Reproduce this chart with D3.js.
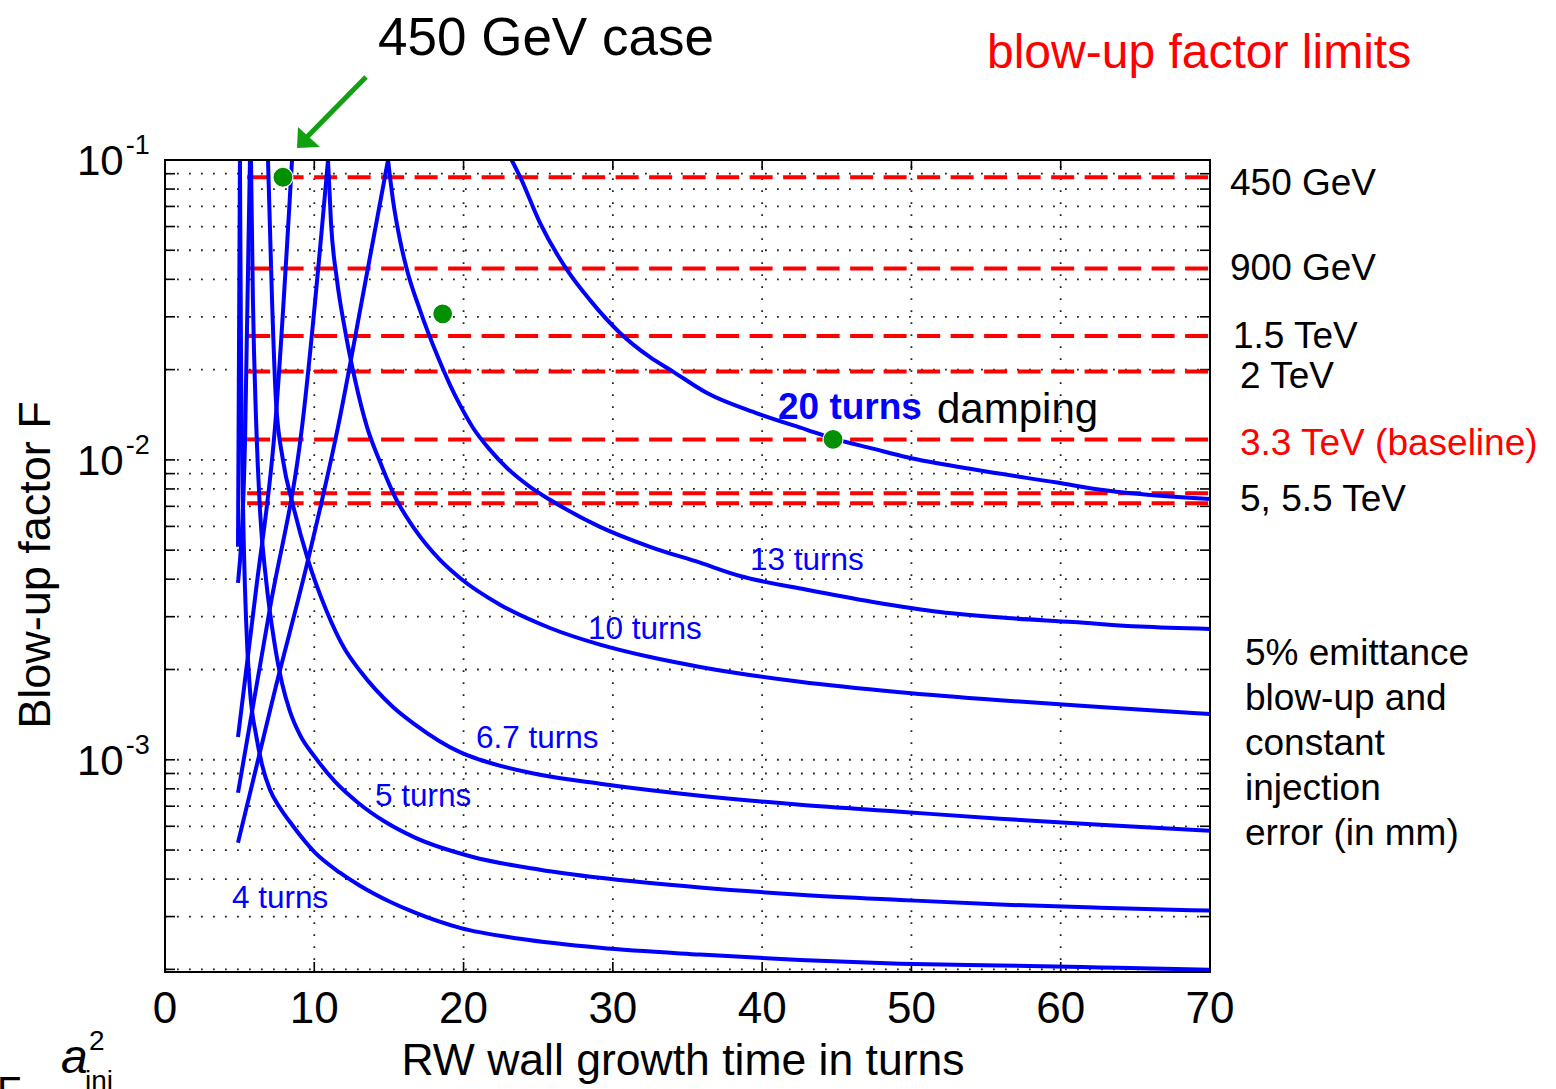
<!DOCTYPE html>
<html><head><meta charset="utf-8">
<script src="https://cdn.jsdelivr.net/npm/d3@7"></script>
<style>
html,body{margin:0;padding:0;background:#fff;}
svg{display:block;}
text{font-family:"Liberation Sans",Arial,Helvetica,sans-serif;}
</style></head><body>
<svg id="chart" width="1556" height="1089"></svg>
<script>
// ---------------- data ----------------
const xTickValues = [0, 10, 20, 30, 40, 50, 60, 70];
const xGridValues = [10, 20, 30, 40, 50, 60];
const yDecadeTicks = [1e-3, 1e-2, 1e-1];
const yDecadeExponents = ["-3", "-2", "-1"];

const dampingLabels = ["4 turns", "5 turns", "6.7 turns", "10 turns", "13 turns", "20 turns"];

// descending branches [growth time in turns, blow-up factor]
const fall4 = [[5.02,0.1],[5.09,0.0233],[5.22,0.00736],[5.43,0.00293],[5.69,0.00171],[6.10,0.00121],[6.50,0.000962],[7.03,0.000794],[7.70,0.000692],[8.51,0.000607],[10.05,0.00049],[11.72,0.00042],[13.06,0.00038],[15.07,0.000336],[16.75,0.000309],[19.76,0.000275],[23.78,0.000253],[29.14,0.000236],[35.84,0.000224],[42.53,0.000215],[49.23,0.000209],[55.93,0.000206],[62.63,0.000203],[70,0.0001995]];
const fall5 = [[5.76,0.1],[5.89,0.0341],[6.10,0.0136],[6.36,0.00681],[6.77,0.00398],[7.30,0.00251],[7.84,0.0018],[8.37,0.00145],[9.04,0.00121],[10.05,0.00102],[11.39,0.000845],[12.93,0.000719],[14.74,0.000621],[16.75,0.00055],[20.56,0.000475],[25.12,0.00043],[29.14,0.000404],[35.84,0.000375],[42.53,0.000355],[49.23,0.000341],[55.93,0.000329],[62.63,0.000321],[70,0.000314]];
const fall67 = [[6.90,0.1],[7.17,0.0341],[7.43,0.0158],[7.90,0.01],[8.57,0.00708],[9.58,0.00464],[10.85,0.00311],[12.06,0.00233],[13.06,0.00198],[15.27,0.0015],[16.75,0.00131],[19.76,0.00106],[21.10,0.001],[25.12,0.000891],[29.14,0.000832],[35.84,0.000759],[42.53,0.000708],[49.23,0.000671],[55.93,0.000636],[62.63,0.000607],[70,0.00058]];
const fall10 = [[10.92,0.1],[11.12,0.0617],[11.52,0.0398],[12.06,0.0271],[12.73,0.0185],[13.53,0.01288],[14.40,0.00985],[15.41,0.00752],[16.75,0.00585],[18.42,0.00464],[19.76,0.00404],[22.44,0.00329],[25.79,0.00275],[29.14,0.00242],[32.49,0.0022],[35.84,0.00204],[42.53,0.00182],[49.23,0.00168],[55.93,0.00158],[62.63,0.0015],[70,0.00142]];
const fall13 = [[14.94,0.1],[15.27,0.0736],[15.74,0.0541],[16.21,0.043],[17.08,0.0316],[18.22,0.0224],[19.09,0.0178],[19.76,0.01525],[20.63,0.0128],[21.77,0.0108],[22.91,0.0094],[24.45,0.00813],[25.79,0.00736],[29.14,0.00598],[32.49,0.00513],[35.84,0.00454],[38.52,0.0041],[43.0,0.00369],[47.42,0.00336],[51.91,0.00311],[56.4,0.00297],[60.82,0.00288],[65.31,0.00278],[70,0.00273]];
const fall20 = [[23.22,0.1],[23.78,0.088],[25.12,0.0617],[26.93,0.043],[28.47,0.0341],[30.48,0.0265],[32.49,0.022],[34.03,0.0197],[36.31,0.0167],[39.65,0.0143],[43.0,0.0126],[44.75,0.0118],[47.42,0.0109],[49.70,0.0102],[54.12,0.0093],[59.75,0.0084],[63.10,0.0079],[70,0.0074]];

// rising branches
const rise4 = [[4.89,0.00513],[5.02,0.1]];
const rise5 = [[4.89,0.00389],[5.36,0.0115],[5.69,0.1]];
const rise67 = [[4.89,0.00119],[6.1,0.00369],[7.37,0.01288],[8.51,0.1]];
const rise10 = [[4.89,0.000776],[7.03,0.0032],[9.18,0.01288],[10.92,0.1]];
const rise13 = [[4.89,0.000529],[7.37,0.00171],[9.58,0.00464],[11.59,0.01288],[13.26,0.0355],[14.94,0.1]];

// blow-up factor limits per energy
const limitLabels = ["450 GeV", "900 GeV", "1.5 TeV", "2 TeV", "3.3 TeV (baseline)", "5 TeV", "5.5 TeV"];
const limitValues = [0.0876, 0.0435, 0.0259, 0.0197, 0.0117, 0.00774, 0.00717];
const limitRange = [5.5, 70];

// operating points (green dots)
const pointX = [7.9, 18.6, 44.75];
const pointF = [0.0876, 0.0307, 0.0117];

// ---------------- drawing ----------------
const svg = d3.select("#chart");
const L = 165, R = 1210, T = 160, B = 972;
const x = d3.scaleLinear().domain([0, 70]).range([L, R]);
const y = d3.scaleLog().domain([1.96e-4, 0.1]).range([B, T]);

svg.append("defs").append("clipPath").attr("id", "plotclip")
  .append("rect").attr("x", L).attr("y", T).attr("width", R - L).attr("height", B - T);

// grid (dotted)
const yMinor = [];
[1e-4, 1e-3, 1e-2].forEach(d => { for (let k = 1; k <= 9; k++) { const v = d * k; if (v >= 1.96e-4 && v < 0.1) yMinor.push(v); } });
const grid = svg.append("g").attr("stroke", "#222").attr("stroke-width", 1.8).attr("stroke-dasharray", "1.8,10.2");
grid.selectAll("line.h").data(yMinor).join("line").attr("class", "h")
  .attr("x1", L).attr("x2", R).attr("y1", d => y(d)).attr("y2", d => y(d));
grid.selectAll("line.v").data(xGridValues).join("line").attr("class", "v")
  .attr("x1", d => x(d)).attr("x2", d => x(d)).attr("y1", B).attr("y2", T);

// ticks (inward)
const ticks = svg.append("g").attr("stroke", "#000").attr("stroke-width", 1.6);
ticks.selectAll("line.yl").data(yMinor.concat([0.1])).join("line").attr("class", "yl")
  .attr("x1", L).attr("x2", L + 10).attr("y1", d => y(d)).attr("y2", d => y(d));
ticks.selectAll("line.yr").data(yMinor.concat([0.1])).join("line").attr("class", "yr")
  .attr("x1", R).attr("x2", R - 10).attr("y1", d => y(d)).attr("y2", d => y(d));
ticks.selectAll("line.xb").data(xTickValues).join("line").attr("class", "xb")
  .attr("x1", d => x(d)).attr("x2", d => x(d)).attr("y1", B).attr("y2", B - 10);
ticks.selectAll("line.xt").data(xTickValues).join("line").attr("class", "xt")
  .attr("x1", d => x(d)).attr("x2", d => x(d)).attr("y1", T).attr("y2", T + 10);

const plot = svg.append("g").attr("clip-path", "url(#plotclip)");

// limit lines
plot.selectAll("line.lim").data(limitValues).join("line").attr("class", "lim")
  .attr("x1", x(limitRange[0])).attr("x2", x(limitRange[1]))
  .attr("y1", d => y(d)).attr("y2", d => y(d))
  .attr("stroke", "#ff0000").attr("stroke-width", 4).attr("stroke-dasharray", "23,10.5");

// curves
const line = d3.line().x(d => x(d[0])).y(d => y(d[1])).curve(d3.curveMonotoneX);
const branches = [fall4, fall5, fall67, fall10, fall13, fall20, rise4, rise5, rise67, rise10, rise13];
plot.selectAll("path.curve").data(branches).join("path").attr("class", "curve")
  .attr("d", line).attr("fill", "none").attr("stroke", "#0000ff").attr("stroke-width", 4)
  .attr("stroke-linejoin", "round");

// green dots
plot.selectAll("circle.pt").data(pointX).join("circle").attr("class", "pt")
  .attr("cx", d => x(d)).attr("cy", (d, i) => y(pointF[i])).attr("r", 10)
  .attr("fill", "#009000").attr("stroke", "#ffffff").attr("stroke-width", 1.2);

// frame
svg.append("rect").attr("x", L).attr("y", T).attr("width", R - L).attr("height", B - T)
  .attr("fill", "none").attr("stroke", "#000").attr("stroke-width", 2);

// tick labels
svg.selectAll("text.xt").data(xTickValues).join("text").attr("class", "xt")
  .attr("x", d => x(d)).attr("y", 1023).attr("text-anchor", "middle")
  .attr("font-size", 44).text(d => d);
const yl = svg.selectAll("text.yt").data(yDecadeTicks).join("text").attr("class", "yt")
  .attr("x", 77).attr("y", d => y(d) + 15).attr("font-size", 42);
yl.append("tspan").text("10");
yl.append("tspan").attr("dx", 2).attr("dy", -21).attr("font-size", 27).text((d, i) => yDecadeExponents[i]);

// axis titles
svg.append("text").attr("x", 683).attr("y", 1075).attr("text-anchor", "middle")
  .attr("font-size", 44.5).text("RW wall growth time in turns");
svg.append("text").attr("transform", "translate(50,565) rotate(-90)").attr("text-anchor", "middle")
  .attr("font-size", 45).text("Blow-up factor F");

// annotations
svg.append("text").attr("x", 378).attr("y", 55).attr("font-size", 53).text("450 GeV case");
svg.append("text").attr("x", 987).attr("y", 68).attr("font-size", 48).attr("fill", "#ff0000").text("blow-up factor limits");

// green arrow
svg.append("line").attr("x1", 366).attr("y1", 77).attr("x2", 306).attr("y2", 138)
  .attr("stroke", "#10a010").attr("stroke-width", 5);
svg.append("polygon").attr("points", "297,148 298,127 320,147").attr("fill", "#10a010");

const rightLabels = [
  {t: "450 GeV", x: 1230, y: 195, c: "#000"},
  {t: "900 GeV", x: 1230, y: 280, c: "#000"},
  {t: "1.5 TeV", x: 1233, y: 348, c: "#000"},
  {t: "2 TeV", x: 1240, y: 388, c: "#000"},
  {t: "3.3 TeV (baseline)", x: 1240, y: 455, c: "#ff0000"},
  {t: "5, 5.5 TeV", x: 1240, y: 511, c: "#000"}
];
svg.selectAll("text.rl").data(rightLabels).join("text").attr("class", "rl")
  .attr("x", d => d.x).attr("y", d => d.y).attr("fill", d => d.c).attr("font-size", 37).text(d => d.t);

const noteLines = ["5% emittance", "blow-up and", "constant", "injection", "error (in mm)"];
svg.selectAll("text.note").data(noteLines).join("text").attr("class", "note")
  .attr("x", 1245).attr("y", (d, i) => 665 + i * 45).attr("font-size", 37).text(d => d);

// damping labels
const dampPos = [[232, 908], [375, 806], [476, 748], [588, 639], [750, 570]];
svg.selectAll("text.dl").data(dampPos).join("text").attr("class", "dl")
  .attr("x", d => d[0]).attr("y", d => d[1]).attr("fill", "#0000ff").attr("font-size", 31.5)
  .text((d, i) => dampingLabels[i]);
svg.append("text").attr("x", 778).attr("y", 419).attr("fill", "#0000ff").attr("font-size", 37)
  .attr("font-weight", "bold").text(dampingLabels[5]);
svg.append("text").attr("x", 937).attr("y", 423).attr("font-size", 42).text("damping");

// cut-off formula fragment at bottom-left
const serif = "Liberation Serif, Times New Roman, serif";
svg.append("text").attr("x", 61).attr("y", 1073).attr("font-family", serif).attr("font-size", 48)
  .attr("font-style", "italic").text("a");
svg.append("text").attr("x", 89).attr("y", 1050).attr("font-family", serif).attr("font-size", 28).text("2");
svg.append("text").attr("x", 85).attr("y", 1090).attr("font-family", serif).attr("font-size", 28).text("inj");
svg.append("text").attr("x", -3).attr("y", 1105).attr("font-family", serif).attr("font-size", 40).text("F");
</script>
</body></html>
